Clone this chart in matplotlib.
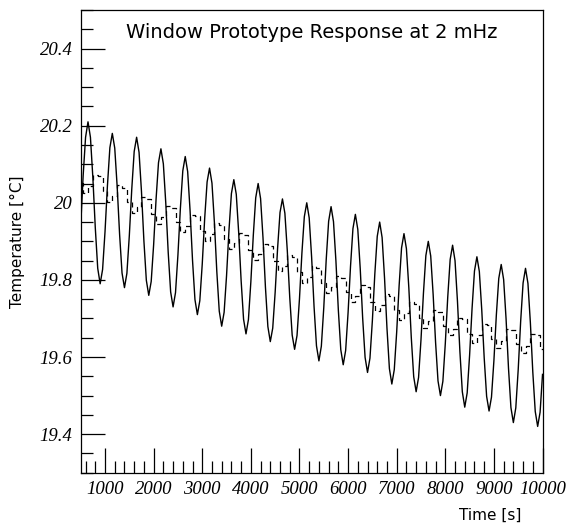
import numpy as np
import matplotlib
matplotlib.use("Agg")
import matplotlib.pyplot as plt
from matplotlib.ticker import MultipleLocator, FuncFormatter

# ---- data ----
title = "Window Prototype Response at 2 mHz"
x_label = "Time [s]"
y_label = "Temperature [°C]"

solid_t0, solid_dt = 500, 50
solid_temp = [
    19.94, 20.07, 20.17,
    20.21, 20.17, 20.065, 19.935, 19.83, 19.79, 19.827, 19.925, 20.045, 20.143,
    20.18, 20.142, 20.042, 19.918, 19.818, 19.78, 19.817, 19.915, 20.035, 20.133,
    20.17, 20.131, 20.029, 19.901, 19.799, 19.76, 19.796, 19.891, 20.009, 20.104,
    20.14, 20.101, 19.999, 19.871, 19.769, 19.73, 19.767, 19.865, 19.985, 20.083,
    20.12, 20.081, 19.979, 19.851, 19.749, 19.71, 19.746, 19.841, 19.959, 20.054,
    20.09, 20.051, 19.949, 19.821, 19.719, 19.68, 19.716, 19.811, 19.929, 20.024,
    20.06, 20.022, 19.922, 19.798, 19.698, 19.66, 19.697, 19.795, 19.915, 20.013,
    20.05, 20.011, 19.909, 19.781, 19.679, 19.64, 19.675, 19.768, 19.882, 19.975,
    20.01, 19.973, 19.875, 19.755, 19.657, 19.62, 19.656, 19.751, 19.869, 19.964,
    20.00, 19.961, 19.859, 19.731, 19.629, 19.59, 19.628, 19.728, 19.852, 19.952,
    19.99, 19.951, 19.849, 19.721, 19.619, 19.58, 19.617, 19.715, 19.835, 19.933,
    19.97, 19.931, 19.829, 19.701, 19.599, 19.56, 19.597, 19.695, 19.815, 19.913,
    19.95, 19.91, 19.805, 19.675, 19.57, 19.53, 19.567, 19.665, 19.785, 19.883,
    19.92, 19.881, 19.779, 19.651, 19.549, 19.51, 19.547, 19.645, 19.765, 19.863,
    19.90, 19.862, 19.762, 19.638, 19.538, 19.50, 19.537, 19.635, 19.755, 19.853,
    19.89, 19.85, 19.745, 19.615, 19.51, 19.47, 19.507, 19.605, 19.725, 19.823,
    19.86, 19.822, 19.722, 19.598, 19.498, 19.46, 19.496, 19.591, 19.709, 19.804,
    19.84, 19.801, 19.699, 19.571, 19.469, 19.43, 19.468, 19.568, 19.692, 19.792,
    19.83, 19.791, 19.689, 19.561, 19.459, 19.42, 19.457, 19.555,
]

dashed_t0, dashed_dt = 500, 100
dashed_temp = [
    20.051, 20.026, 20.043, 20.072, 20.069,
    20.030, 20.003, 20.018, 20.045, 20.039,
    20.001, 19.974, 19.989, 20.016, 20.010,
    19.971, 19.946, 19.962, 19.991, 19.986,
    19.949, 19.924, 19.940, 19.969, 19.965,
    19.927, 19.902, 19.918, 19.947, 19.943,
    19.905, 19.880, 19.895, 19.922, 19.917,
    19.878, 19.851, 19.866, 19.893, 19.888,
    19.849, 19.822, 19.837, 19.864, 19.859,
    19.820, 19.793, 19.808, 19.836, 19.830,
    19.791, 19.765, 19.782, 19.810, 19.805,
    19.768, 19.742, 19.758, 19.787, 19.782,
    19.744, 19.719, 19.735, 19.763, 19.759,
    19.721, 19.696, 19.713, 19.742, 19.738,
    19.701, 19.676, 19.693, 19.722, 19.718,
    19.681, 19.656, 19.673, 19.702, 19.698,
    19.661, 19.637, 19.656, 19.686, 19.683,
    19.648, 19.624, 19.642, 19.673, 19.670,
    19.634, 19.611, 19.629, 19.659, 19.657,
    19.621,
]

x_ticks = [1000, 2000, 3000, 4000, 5000, 6000, 7000, 8000, 9000, 10000]
y_ticks = [19.4, 19.6, 19.8, 20.0, 20.2, 20.4]

solid_time = solid_t0 + solid_dt * np.arange(len(solid_temp))
dashed_time = dashed_t0 + dashed_dt * np.arange(len(dashed_temp))

# ---- figure ----
fig = plt.figure(figsize=(5.70, 5.24), dpi=100)
ax = fig.add_axes([0.1416, 0.0979, 0.9518 - 0.1416, 0.9809 - 0.0979])

ax.plot(dashed_time, dashed_temp, drawstyle="steps-mid", color="black",
        lw=0.9, linestyle=(0, (4, 3)))
ax.plot(solid_time, solid_temp, color="black", lw=1.0)

ax.set_xlim(500, 10000)
ax.set_ylim(19.3, 20.5)

ax.set_xticks(x_ticks)
ax.set_yticks(y_ticks)
ax.xaxis.set_minor_locator(MultipleLocator(200))
ax.yaxis.set_minor_locator(MultipleLocator(0.05))
ax.yaxis.set_major_formatter(FuncFormatter(lambda v, p: f"{v:g}"))
ax.xaxis.set_major_formatter(FuncFormatter(lambda v, p: f"{v:g}"))

ax.tick_params(axis="both", which="both", direction="in", top=False, right=False,
               width=0.9, colors="black")
ax.tick_params(axis="x", which="major", length=18, pad=6)
ax.tick_params(axis="x", which="minor", length=8.5)
ax.tick_params(axis="y", which="major", length=17.5, pad=6)
ax.tick_params(axis="y", which="minor", length=8.5)
for lab in ax.get_xticklabels() + ax.get_yticklabels():
    lab.set_fontfamily("Liberation Serif")
    lab.set_fontstyle("italic")
    lab.set_fontsize(13.5)

for sp in ax.spines.values():
    sp.set_linewidth(0.9)
    sp.set_color("black")

ax.set_xlabel(x_label, fontsize=11, family="DejaVu Sans")
ax.xaxis.set_label_coords(0.886, -0.0914)
ax.xaxis.label.set_va("center")
ax.xaxis.label.set_ha("center")
ax.set_ylabel(y_label, fontsize=11, family="DejaVu Sans")
ax.yaxis.set_label_coords(-0.136, 0.50)
ax.yaxis.label.set_va("center")

ax.text(0.501, 0.952, title, transform=ax.transAxes, ha="center", va="center",
        fontsize=14, family="DejaVu Sans")

fig.savefig("out.png", dpi=100, facecolor="white")
